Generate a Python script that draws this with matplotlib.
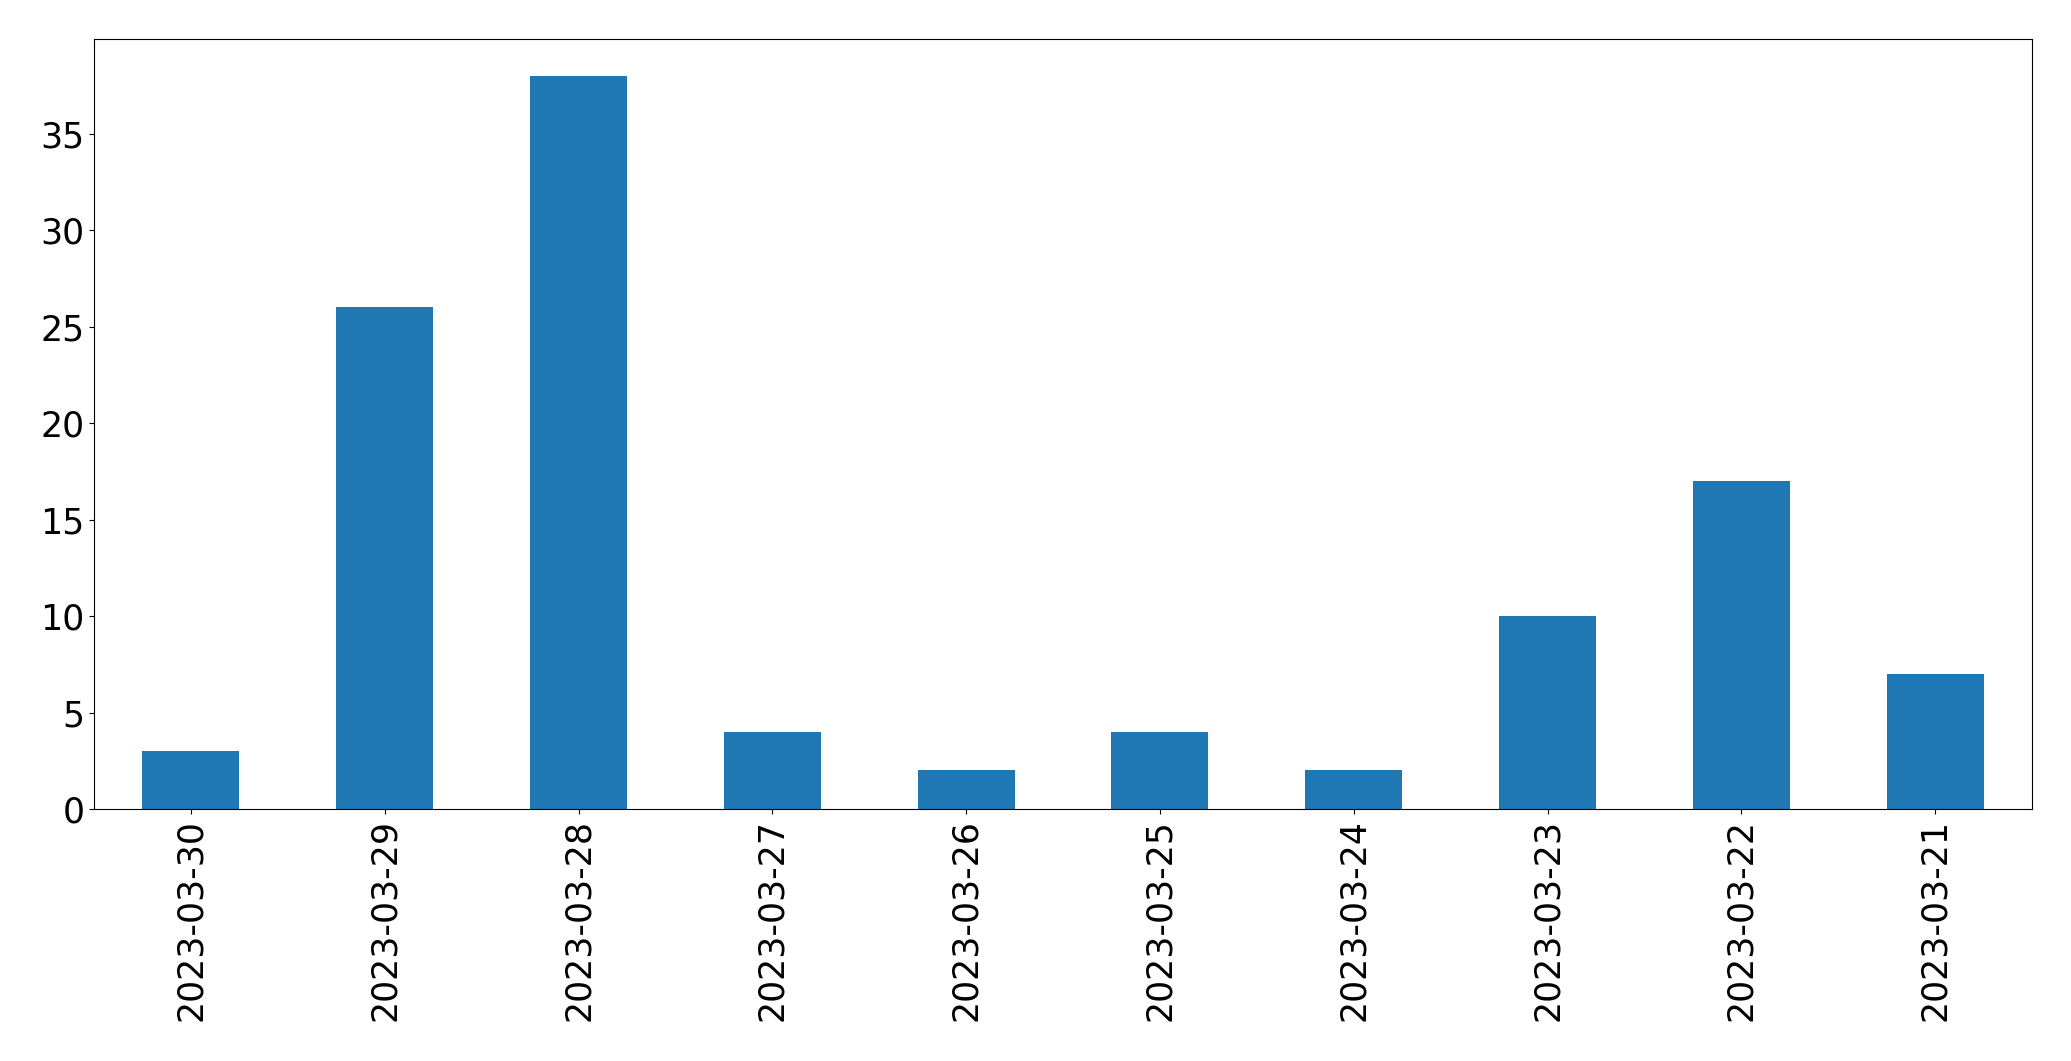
import matplotlib
matplotlib.use("Agg")
import matplotlib.pyplot as plt

dates = ["2023-03-30", "2023-03-29", "2023-03-28", "2023-03-27", "2023-03-26",
         "2023-03-25", "2023-03-24", "2023-03-23", "2023-03-22", "2023-03-21"]
counts = [3, 26, 38, 4, 2, 4, 2, 10, 17, 7]

fig, ax = plt.subplots(figsize=(20.71, 10.61), dpi=100)
fig.subplots_adjust(left=94 / 2071, right=2032 / 2071, top=1 - 39 / 1061, bottom=1 - 809 / 1061)

x = range(len(dates))
ax.bar(x, counts, width=0.5, color="#1f77b4")
ax.set_xlim(-0.5, len(dates) - 0.5)
ax.set_ylim(0, max(counts) * 1.05)
ax.set_xticks(list(x))
ax.set_xticklabels(dates, rotation=90)
ax.tick_params(labelsize=25)

fig.savefig("out.png")
